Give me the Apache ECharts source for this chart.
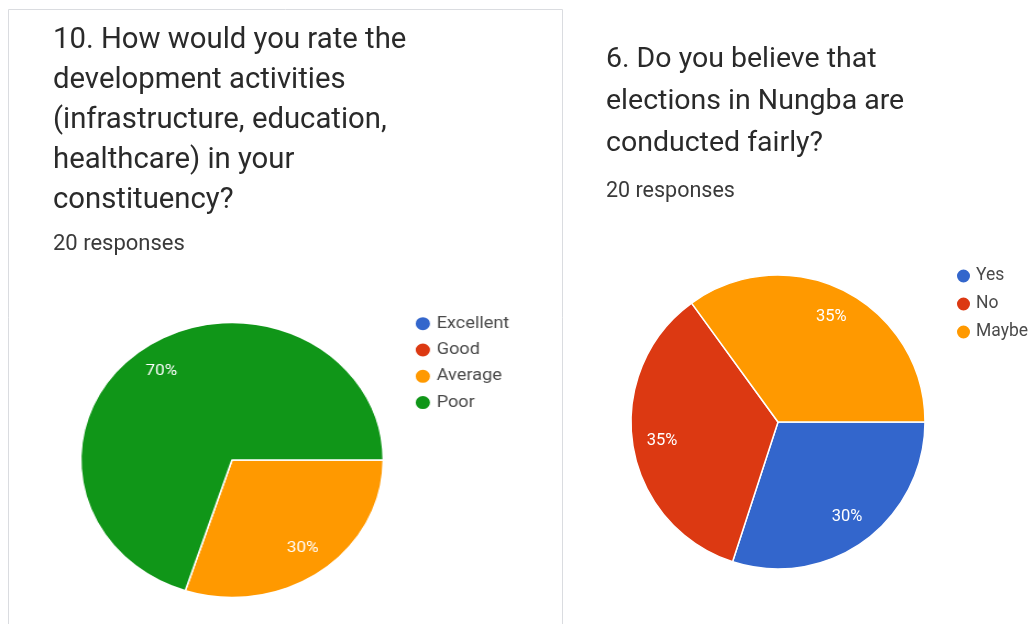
<!DOCTYPE html>
<html>
<head>
<meta charset="utf-8">
<script src="https://cdn.jsdelivr.net/npm/echarts@6/dist/echarts.min.js"></script>
<style>
  html, body { margin: 0; padding: 0; background: #ffffff; }
  #main { position: absolute; left: 0; top: 0; width: 1031px; height: 624px; }
  /* the development pie is drawn slightly wider than tall */
  #dev { position: absolute; left: 0; top: 0; width: 510px; height: 624px;
         transform: scaleX(1.1); transform-origin: 0 0; }
</style>
</head>
<body>
<div id="main"></div>
<div id="dev"></div>
<script>
// Question 10: rating of development activities (20 responses)
const devTitle = '10. How would you rate the\ndevelopment activities\n(infrastructure, education,\nhealthcare) in your\nconstituency?';
const devCategories = ['Excellent', 'Good', 'Average', 'Poor'];
const devCounts = [0, 0, 6, 14];

// Question 6: are elections in Nungba fair (20 responses)
const electionTitle = '6. Do you believe that\nelections in Nungba are\nconducted fairly?';
const electionCategories = ['Yes', 'No', 'Maybe'];
const electionCounts = [6, 7, 7];

const responsesText = '20 responses';

const devColors = ['#3366cc', '#dc3912', '#ff9900', '#109618'];
const electionColors = ['#3366cc', '#dc3912', '#ff9900'];

const FONT = 'Roboto, "Noto Sans", sans-serif';

function toData(names, values) {
  return names.map((n, i) => ({ name: n, value: values[i] }));
}

function pctLabel(p) {
  return p.value ? Math.round(p.percent) + '%' : '';
}

// slices
function pieSeries(names, values, colors, center, radius) {
  return {
    type: 'pie',
    center: center,
    radius: radius,
    startAngle: 0,
    clockwise: true,
    color: colors,
    avoidLabelOverlap: false,
    minShowLabelAngle: 1,
    label: { show: false },
    labelLine: { show: false },
    itemStyle: { borderColor: '#ffffff', borderWidth: 1.5 },
    emphasis: { disabled: true },
    animation: false,
    data: toData(names, values)
  };
}

// percentage labels placed toward the rim (transparent ring, labels only)
function labelSeries(names, values, center, inner, outer, fontSize) {
  return {
    type: 'pie',
    center: center,
    radius: [inner, outer],
    startAngle: 0,
    clockwise: true,
    silent: true,
    legendHoverLink: false,
    avoidLabelOverlap: false,
    minShowLabelAngle: 1,
    itemStyle: { color: 'rgba(0,0,0,0)', borderWidth: 0 },
    label: {
      show: true,
      position: 'inside',
      formatter: pctLabel,
      color: '#ffffff',
      fontSize: fontSize,
      fontFamily: FONT
    },
    labelLine: { show: false },
    emphasis: { disabled: true },
    animation: false,
    data: toData(names, values)
  };
}

const main = echarts.init(document.getElementById('main'), null, { renderer: 'canvas' });
main.setOption({
  backgroundColor: '#ffffff',
  animation: false,
  graphic: [{
    type: 'rect',
    shape: { x: 8.5, y: 9.5, width: 554, height: 640 },
    style: { fill: 'none', stroke: '#dadce0', lineWidth: 1 },
    z: -10
  }],
  title: [
    {
      text: devTitle, left: 53, top: 20.5, padding: 0,
      textStyle: { fontFamily: FONT, fontSize: 29.3, fontWeight: 400, lineHeight: 40, color: '#2a2a2a' }
    },
    {
      text: responsesText, left: 53, top: 232, padding: 0,
      textStyle: { fontFamily: FONT, fontSize: 22, fontWeight: 400, lineHeight: 24, color: '#3a3a3a' }
    },
    {
      text: electionTitle, left: 606, top: 39, padding: 0,
      textStyle: { fontFamily: FONT, fontSize: 28.5, fontWeight: 400, lineHeight: 42, color: '#2a2a2a' }
    },
    {
      text: responsesText, left: 606, top: 180, padding: 0,
      textStyle: { fontFamily: FONT, fontSize: 21.5, fontWeight: 400, lineHeight: 24, color: '#3a3a3a' }
    }
  ],
  legend: {
    orient: 'vertical',
    left: 955, top: 267, padding: 0,
    icon: 'circle', itemWidth: 15, itemHeight: 15, itemGap: 10,
    selectedMode: false,
    data: electionCategories,
    textStyle: { fontFamily: FONT, fontSize: 17.5, lineHeight: 15, color: '#4a4a4a' }
  },
  series: [
    pieSeries(electionCategories, electionCounts, electionColors, [778, 422], 147),
    labelSeries(electionCategories, electionCounts, [778, 422], 82, 147, 16.5)
  ]
});

const dev = echarts.init(document.getElementById('dev'), null, { renderer: 'canvas' });
dev.setOption({
  animation: false,
  legend: {
    orient: 'vertical',
    left: 375.9, top: 315.2, padding: 0,
    icon: 'circle', itemWidth: 15, itemHeight: 16, itemGap: 9.3,
    selectedMode: false,
    data: devCategories,
    textStyle: { fontFamily: FONT, fontSize: 16.5, lineHeight: 16, color: '#4a4a4a' }
  },
  series: [
    pieSeries(devCategories, devCounts, devColors, [210.9, 460], 137.5),
    labelSeries(devCategories, devCounts, [210.9, 460], 75, 137.5, 15.5)
  ]
});
</script>
</body>
</html>
